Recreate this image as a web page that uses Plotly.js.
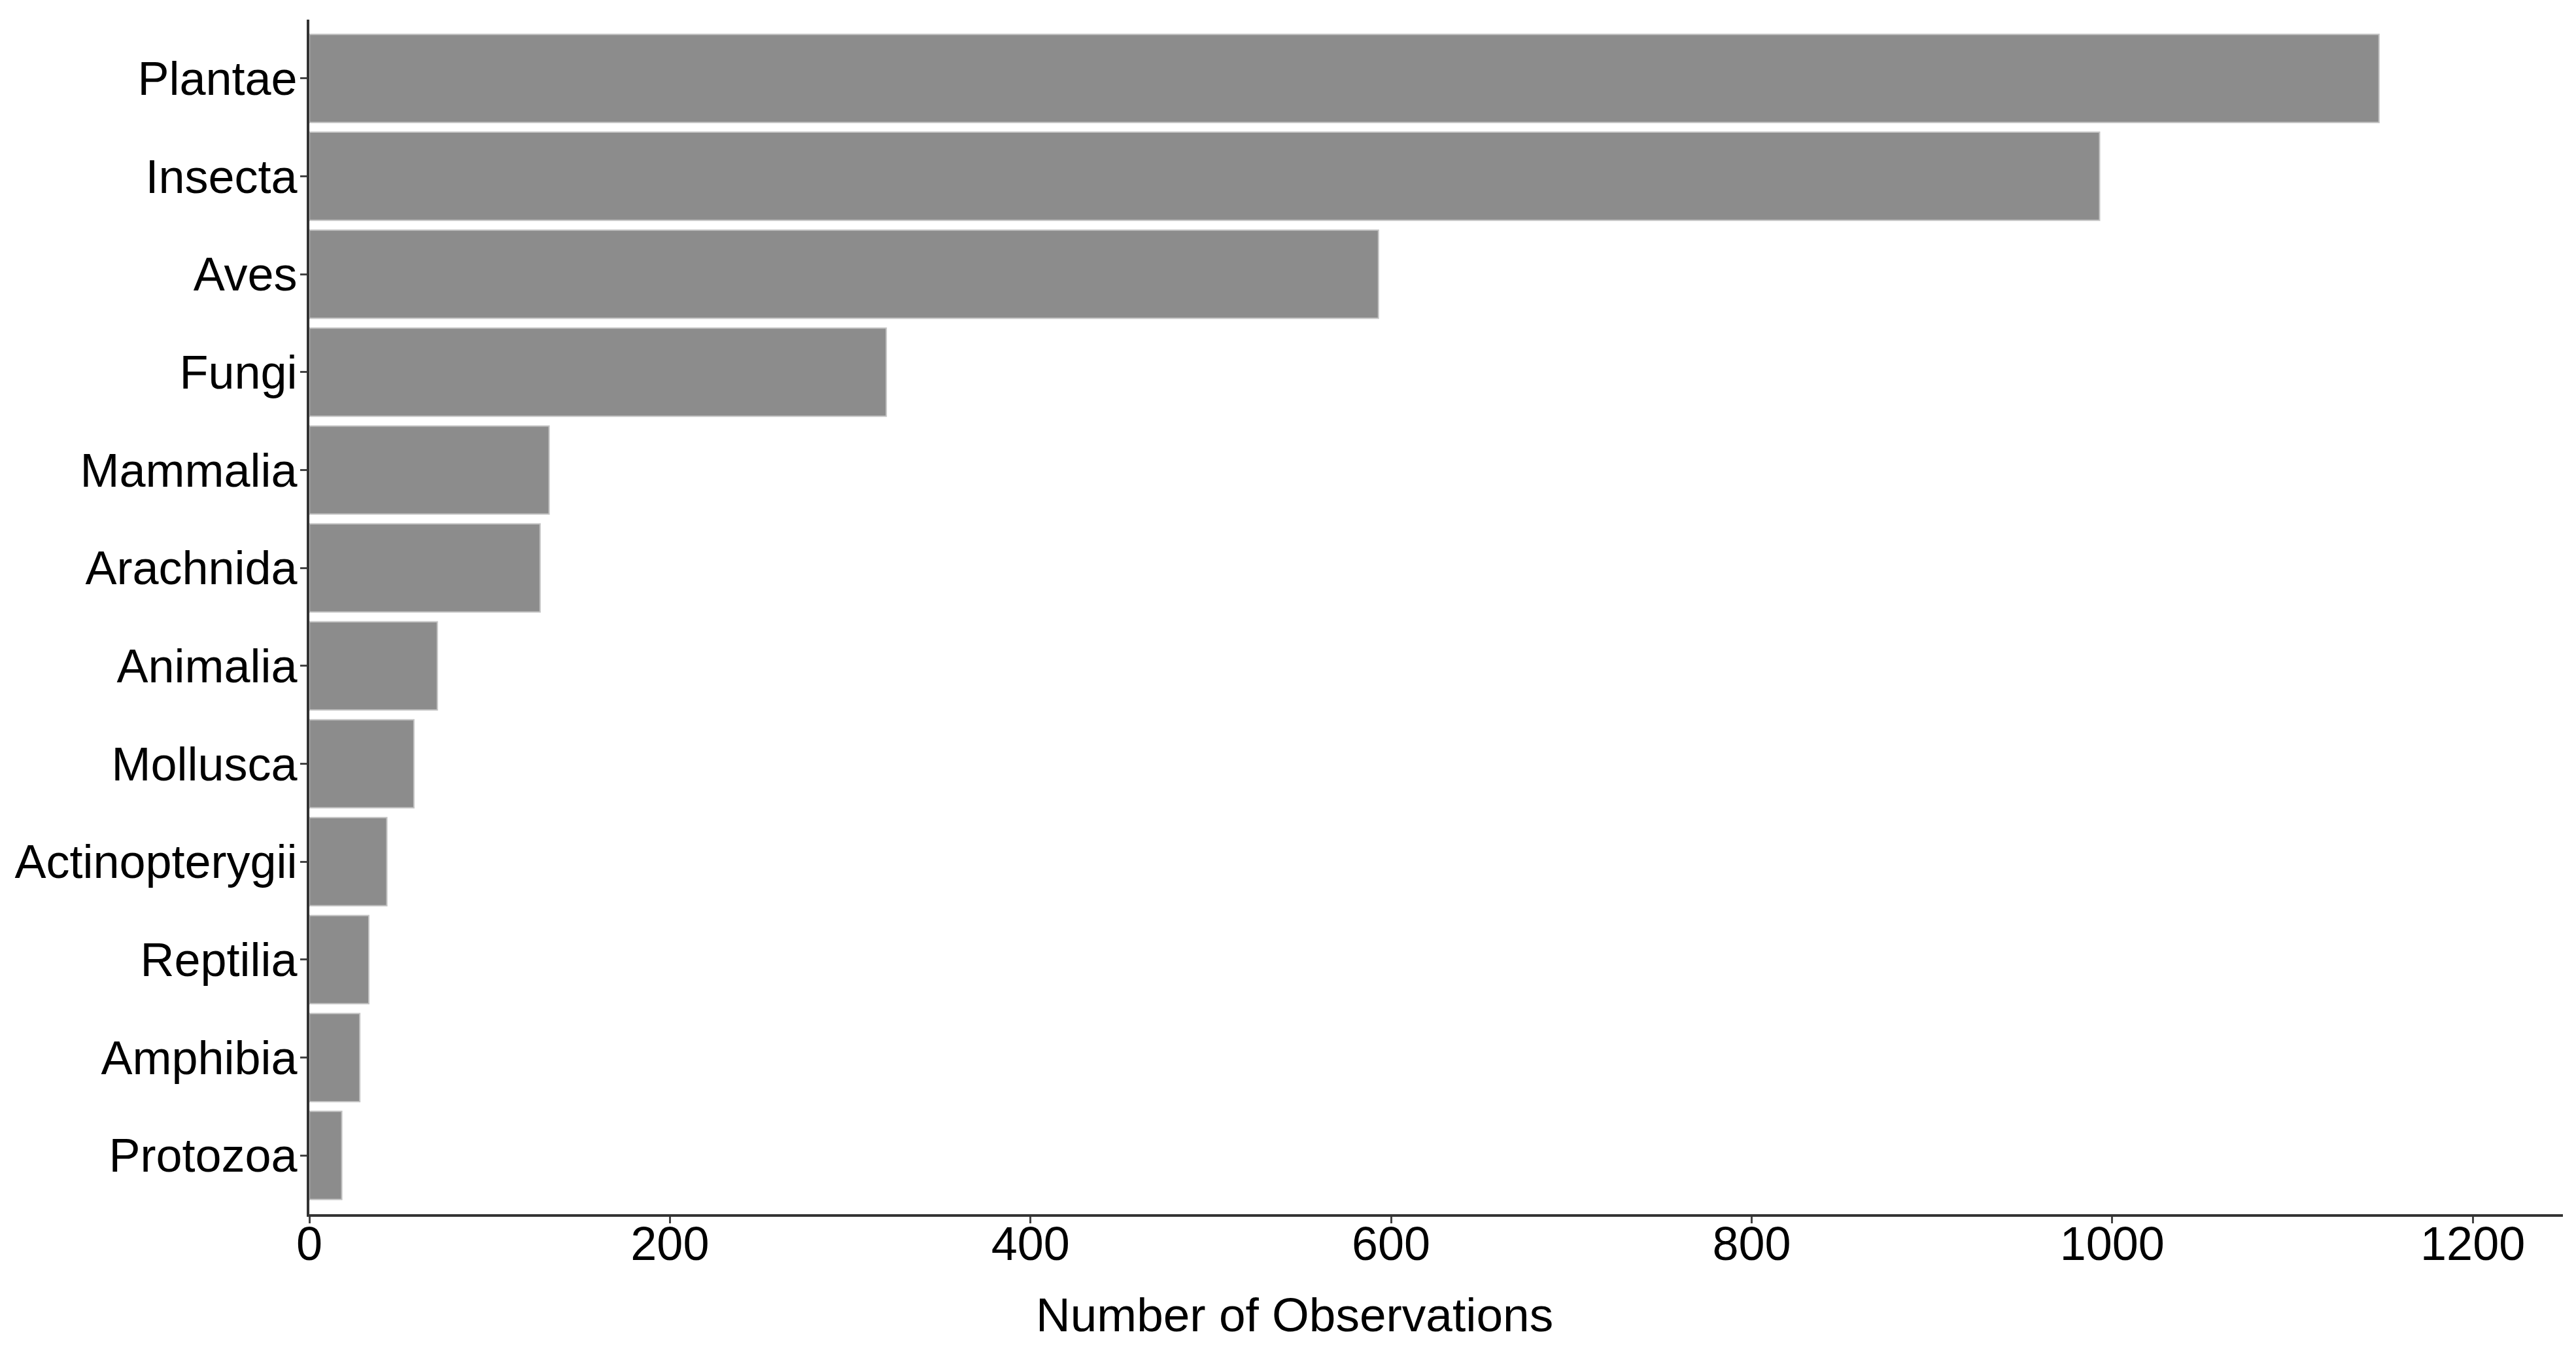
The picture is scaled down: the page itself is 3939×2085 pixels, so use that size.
<!DOCTYPE html>
<html>
<head>
<meta charset="utf-8">
<script src="https://cdn.plot.ly/plotly-3.0.1.min.js"></script>
<style>html,body{margin:0;padding:0;background:#fff;}#chart{width:3939px;height:2085px;}</style>
</head>
<body>
<div id="chart"></div>
<script>
const categories = ["Plantae","Insecta","Aves","Fungi","Mammalia","Arachnida","Animalia","Mollusca","Actinopterygii","Reptilia","Amphibia","Protozoa"];
const observations = [1148, 993, 593, 320, 133, 128, 71, 58, 43, 33, 28, 18];
const xTicks = [0, 200, 400, 600, 800, 1000, 1200];
const xTitle = "Number of Observations";

const fontFamily = "Liberation Sans, Arial, Helvetica, sans-serif";

const trace = {
  type: "bar",
  orientation: "h",
  x: observations,
  y: categories,
  width: 0.9,
  marker: {color: "#8c8c8c", line: {color: "#c4c4c4", width: 2}},
  hoverinfo: "x+y"
};

const layout = {
  width: 3939,
  height: 2085,
  paper_bgcolor: "#ffffff",
  plot_bgcolor: "#ffffff",
  margin: {l: 473, r: 20, t: 30, b: 229, pad: 0},
  showlegend: false,
  font: {family: fontFamily, size: 72, color: "#000"},
  xaxis: {
    range: [0, 1250],
    tickvals: xTicks,
    ticktext: xTicks.map(String),
    showgrid: false,
    zeroline: false,
    showline: true,
    linecolor: "#333333",
    linewidth: 4,
    ticks: "outside",
    ticklen: 10,
    tickwidth: 3,
    tickcolor: "#444444",
    ticklabelstandoff: -30,
    tickfont: {family: fontFamily, size: 72, color: "#000"}
  },
  yaxis: {
    type: "category",
    categoryorder: "array",
    categoryarray: categories,
    range: [11.6, -0.6],
    showgrid: false,
    zeroline: false,
    showline: true,
    linecolor: "#333333",
    linewidth: 4,
    ticks: "outside",
    ticklen: 10,
    tickwidth: 3,
    tickcolor: "#444444",
    ticklabelstandoff: -10,
    tickfont: {family: fontFamily, size: 72, color: "#000"}
  },
  annotations: [{
    text: xTitle,
    xref: "paper", yref: "paper",
    x: 0.4373, y: -0.0843,
    xanchor: "center", yanchor: "middle",
    showarrow: false,
    font: {family: fontFamily, size: 73, color: "#000"}
  }]
};

Plotly.newPlot("chart", [trace], layout, {displayModeBar: false, staticPlot: true});
</script>
</body>
</html>
